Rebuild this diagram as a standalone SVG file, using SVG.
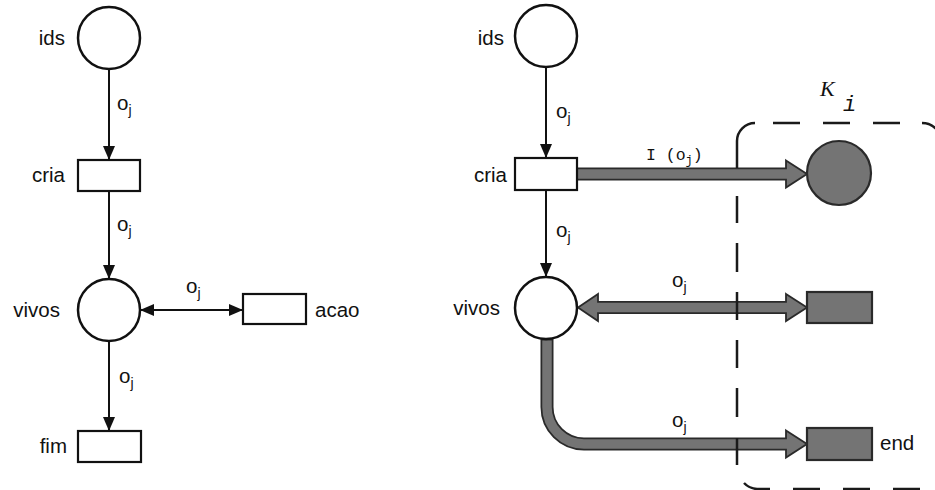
<svg xmlns="http://www.w3.org/2000/svg" width="935" height="490" viewBox="0 0 935 490">
<defs>
<marker id="ah" markerUnits="userSpaceOnUse" markerWidth="14" markerHeight="12" refX="14" refY="6" orient="auto-start-reverse">
<path d="M0,0 L14,6 L0,12 z" fill="#111"/>
</marker>
<style>
.pl{fill:#fff;stroke:#111;stroke-width:2.5}
.tr{fill:#fff;stroke:#111;stroke-width:2.2}
.gp{fill:#747474;stroke:#2a2a2a;stroke-width:2.2}
.ln{stroke:#111;stroke-width:2;fill:none;marker-end:url(#ah)}
.lb{font-family:"Liberation Sans",Arial,sans-serif;font-size:20.5px;fill:#111}
.sub{font-size:14px}
.mono{font-family:"Liberation Mono","Courier New",monospace;font-size:16.5px;fill:#111}
.so{stroke:#2a2a2a;stroke-width:13;fill:none}
.si{stroke:#747474;stroke-width:9.5;fill:none}
.hd{fill:#747474;stroke:#2a2a2a;stroke-width:1.8;stroke-linejoin:miter}
.dash{fill:none;stroke:#1a1a1a;stroke-width:2.5}
</style>
</defs>
<rect width="935" height="490" fill="#fff"/>

<g id="connectors">
<line class="ln" x1="109" y1="69" x2="109" y2="160"/>
<line class="ln" x1="109" y1="191" x2="109" y2="279"/>
<line class="ln" x1="109" y1="341" x2="109" y2="431"/>
<line class="ln" x1="140" y1="310" x2="243" y2="310" style="marker-start:url(#ah)"/>
<line class="ln" x1="546" y1="67" x2="546" y2="158"/>
<line class="ln" x1="546" y1="190" x2="546" y2="277"/>

<line class="so" x1="577" y1="174" x2="790" y2="174"/>
<polygon class="hd" points="786,160.5 807,174 786,187.5"/>
<line class="si" x1="577" y1="174" x2="789" y2="174"/>

<line class="so" x1="595" y1="307.5" x2="790" y2="307.5"/>
<polygon class="hd" points="786,294 807,307.5 786,321"/>
<polygon class="hd" points="598,294 578,307.5 598,321"/>
<line class="si" x1="596" y1="307.5" x2="789" y2="307.5"/>

<path class="so" d="M547,339 V407 A37,37 0 0 0 584,444 H790"/>
<polygon class="hd" points="786,430.5 807,444 786,457.5"/>
<path class="si" d="M547,340.5 V407 A37,37 0 0 0 584,444 H789"/>
</g>

<g id="ids-left">
<circle class="pl" cx="109" cy="38" r="31"/>
<text class="lb" x="65" y="45" text-anchor="end">ids</text>
</g>
<g id="cria-left">
<rect class="tr" x="78" y="160" width="62" height="31"/>
<text class="lb" x="65" y="182" text-anchor="end">cria</text>
</g>
<g id="vivos-left">
<circle class="pl" cx="109" cy="310" r="31"/>
<text class="lb" x="60" y="317" text-anchor="end">vivos</text>
</g>
<g id="acao">
<rect class="tr" x="243" y="294" width="63" height="30"/>
<text class="lb" x="315" y="317">acao</text>
</g>
<g id="fim">
<rect class="tr" x="78" y="431" width="63" height="31"/>
<text class="lb" x="67" y="453" text-anchor="end">fim</text>
</g>

<g id="ids-right">
<circle class="pl" cx="546" cy="36" r="31"/>
<text class="lb" x="504" y="45" text-anchor="end">ids</text>
</g>
<g id="cria-right">
<rect class="tr" x="515" y="158" width="62" height="32"/>
<text class="lb" x="507" y="182" text-anchor="end">cria</text>
</g>
<g id="vivos-right">
<circle class="pl" cx="546" cy="308" r="31"/>
<text class="lb" x="500" y="315" text-anchor="end">vivos</text>
</g>
<g id="token-place">
<circle class="gp" cx="839" cy="173" r="32"/>
</g>
<g id="action-trans">
<rect class="gp" x="807" y="292" width="65" height="31"/>
</g>
<g id="end">
<rect class="gp" x="807" y="428" width="65" height="32"/>
<text class="lb" x="880" y="450">end</text>
</g>

<g id="labels">
<text class="lb" x="117" y="110">o<tspan class="sub" dy="5">j</tspan></text>
<text class="lb" x="117" y="231">o<tspan class="sub" dy="5">j</tspan></text>
<text class="lb" x="186" y="293">o<tspan class="sub" dy="5">j</tspan></text>
<text class="lb" x="119" y="383">o<tspan class="sub" dy="5">j</tspan></text>
<text class="lb" x="556" y="118">o<tspan class="sub" dy="5">j</tspan></text>
<text class="lb" x="556" y="237">o<tspan class="sub" dy="5">j</tspan></text>
<text class="mono" x="646" y="160">I (o<tspan font-size="12" dy="4">j</tspan><tspan dy="-4">)</tspan></text>
<text class="lb" x="672" y="287">o<tspan class="sub" dy="5">j</tspan></text>
<text class="lb" x="672" y="427">o<tspan class="sub" dy="5">j</tspan></text>
</g>

<g id="K_i">
<path class="dash" d="M755,123 A18,18 0 0 0 737,141 V168 M737,196 V223 M737,243 V272 M737,292 V320 M737,340 V368 M737,388 V417 M737,438 V465 M744,483 A20,20 0 0 0 757,489 H770 M793,489 H820 M843,489 H870 M893,489 H920 M773,123 H800 M823,123 H850 M873,123 H900 M922,123 A20,20 0 0 1 942,143"/>
<text x="820" y="96" font-family="'Liberation Serif','Times New Roman',serif" font-style="italic" font-size="22" fill="#111">K</text>
<text x="843" y="111" font-family="'Liberation Mono','Courier New',monospace" font-style="italic" font-size="22" fill="#111">i</text>
</g>
</svg>
